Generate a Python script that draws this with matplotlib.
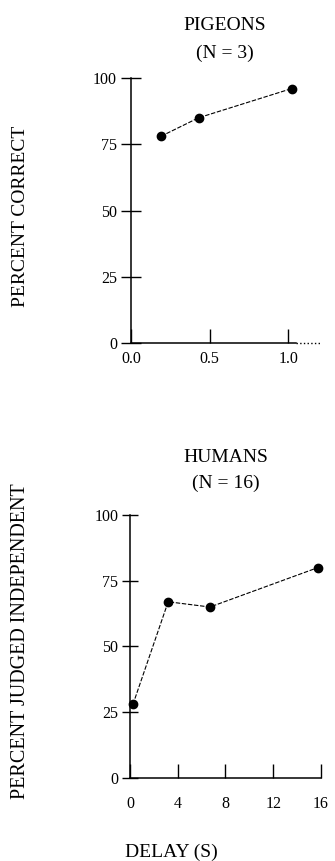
import matplotlib.pyplot as plt

# pigeons: delay (s) vs percent correct
pigeonDelay = [0.19, 0.43, 1.02]
pigeonCorrect = [78, 85, 96]
# humans: delay (s) vs percent judged independent
humanDelay = [0.25, 3.2, 6.7, 15.75]
humanIndep = [28, 67, 65, 80]

pigeonXticks = [0.0, 0.5, 1.0]
pigeonXlabels = ["0.0", "0.5", "1.0"]
humanXticks = [0, 4, 8, 12, 16]
yTicks = [0, 25, 50, 75, 100]

plt.rcParams['font.family'] = ['Liberation Serif', 'DejaVu Serif']

fig = plt.figure(figsize=(3.35, 8.61), dpi=100)

def style(ax, ytlen, xtlen, xpad):
    ax.spines['top'].set_visible(False)
    ax.spines['right'].set_visible(False)
    ax.spines['left'].set_linewidth(1.1)
    ax.spines['bottom'].set_linewidth(1.1)
    ax.set_yticks(yTicks)
    ax.tick_params(axis='y', direction='inout', length=ytlen, width=1.0,
                   labelsize=11.5, pad=3)
    ax.tick_params(axis='x', direction='in', length=xtlen, width=1.0,
                   labelsize=11.5, pad=xpad)

# top panel
ax1 = fig.add_axes([0.391, 0.6016, 0.564, 0.3078])
ax1.plot(pigeonDelay, pigeonCorrect, color='black', lw=0.8,
         linestyle=(0, (4, 1.5)), marker='o', ms=6, clip_on=False)
ax1.set_xlim(0, 1.2)
ax1.set_ylim(0, 100)
ax1.set_xticks(pigeonXticks)
ax1.set_xticklabels(pigeonXlabels)
style(ax1, 14, 10, 6)
ax1.spines['bottom'].set_bounds(0, 1.05)
ax1.plot([1.05, 1.2], [0, 0], color='black', lw=1.0, linestyle=':',
         clip_on=False)

# bottom panel
ax2 = fig.add_axes([0.388, 0.0964, 0.570, 0.3055])
ax2.plot(humanDelay, humanIndep, color='black', lw=0.8,
         linestyle=(0, (4, 1.5)), marker='o', ms=6, clip_on=False)
ax2.set_xlim(0, 16)
ax2.set_ylim(0, 100)
ax2.set_xticks(humanXticks)
style(ax2, 11, 10, 13)

# titles and axis labels
fig.text(225/335, 1-25/861, "PIGEONS", ha='center', va='center', fontsize=14)
fig.text(225/335, 1-53/861, "(N = 3)", ha='center', va='center', fontsize=14)
fig.text(226/335, 1-458/861, "HUMANS", ha='center', va='center', fontsize=14)
fig.text(226/335, 1-483/861, "(N = 16)", ha='center', va='center', fontsize=14)
fig.text(21/335, 1-216/861, "PERCENT CORRECT", rotation=90,
         ha='center', va='center', fontsize=14)
fig.text(21/335, 1-641/861, "PERCENT JUDGED INDEPENDENT", rotation=90,
         ha='center', va='center', fontsize=14.5)
fig.text(171/335, 1-852/861, "DELAY (S)", ha='center', va='center', fontsize=14)

plt.savefig("out.png", dpi=100)
